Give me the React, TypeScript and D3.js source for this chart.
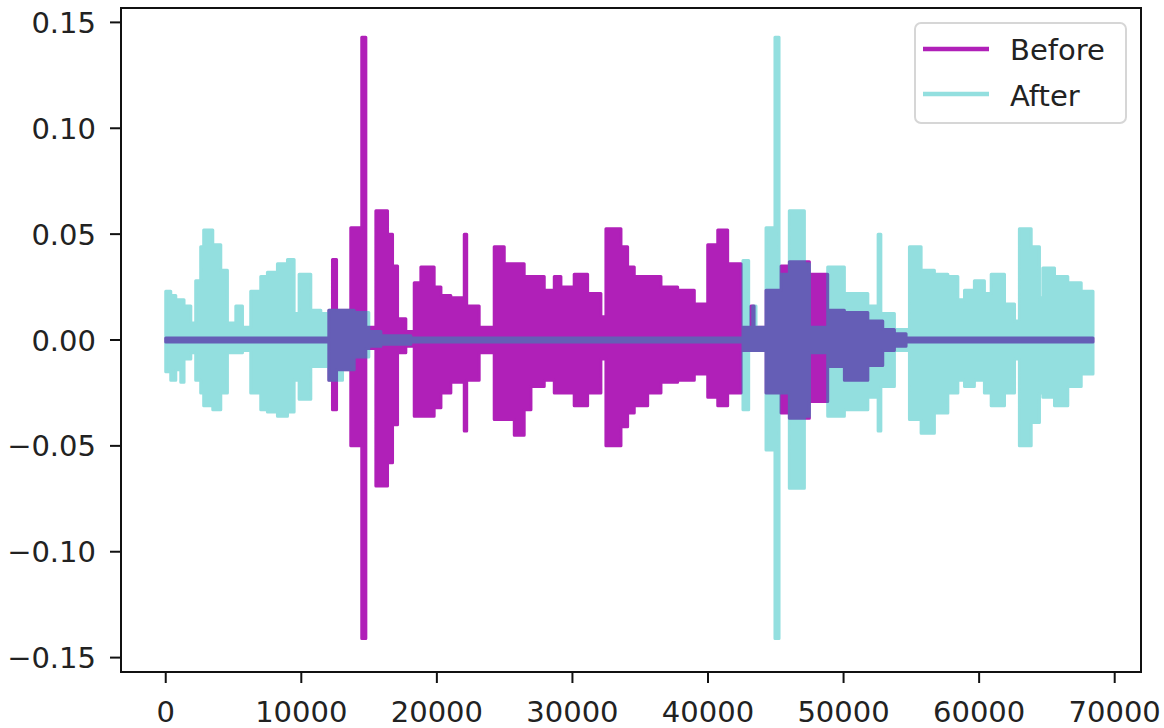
import React from 'react'
import * as d3 from 'd3'

// envelope of each waveform: sample index where a step starts, upper and lower amplitude
const beforeIdx = [0, 12030, 12300, 12600, 13650, 14460, 14760, 15500, 16360, 16730, 17100, 17710, 18330, 18820, 19800, 20300, 21030, 22020, 22200, 23120, 24230, 24970, 25710, 26440, 26940, 27920, 28660, 29150, 30130, 31120, 32100, 32470, 33580, 34070, 34560, 35550, 36530, 37760, 38990, 39980, 40720, 41450, 42440, 43170, 43400, 44280, 45390, 46000, 47480, 48830, 50060, 51790, 52890, 53750, 54610, 68400]
const beforeHi = [0.001, 0.014, 0.038, 0.014, 0.053, 0.143, 0.006, 0.061, 0.05, 0.035, 0.01, 0.004, 0.027, 0.0345, 0.025, 0.021, 0.02, 0.05, 0.016, 0.006, 0.044, 0.036, 0.036, 0.03, 0.03, 0.0235, 0.03, 0.025, 0.031, 0.022, 0.011, 0.0525, 0.044, 0.0345, 0.03, 0.03, 0.025, 0.0235, 0.017, 0.045, 0.052, 0.036, 0.006, 0.016, 0.006, 0.0235, 0.035, 0.037, 0.031, 0.014, 0.013, 0.009, 0.005, 0.003, 0.001, 0.001]
const beforeLo = [-0.001, -0.019, -0.033, -0.014, -0.05, -0.141, -0.004, -0.069, -0.058, -0.04, -0.006, -0.003, -0.036, -0.036, -0.032, -0.025, -0.02, -0.043, -0.019, -0.006, -0.0376, -0.0376, -0.045, -0.033, -0.022, -0.019, -0.025, -0.025, -0.031, -0.025, -0.009, -0.05, -0.041, -0.0345, -0.031, -0.025, -0.02, -0.019, -0.016, -0.027, -0.031, -0.025, -0.005, -0.005, -0.005, -0.025, -0.0345, -0.037, -0.029, -0.0125, -0.019, -0.012, -0.005, -0.003, -0.001, -0.001]

const afterIdx = [0, 370, 740, 1110, 1350, 1850, 2210, 2580, 2800, 3470, 4060, 4550, 5170, 5660, 6270, 7010, 7500, 8240, 8980, 9470, 9840, 10700, 11440, 12030, 13040, 13900, 14980, 15870, 18080, 42580, 43000, 43300, 43540, 44280, 44940, 45240, 46000, 47110, 47480, 48830, 50060, 51790, 52550, 52750, 53750, 54860, 55720, 56700, 57690, 58430, 58920, 59650, 60390, 60890, 61870, 62610, 62970, 63840, 64450, 64700, 65560, 66540, 67530, 68400]
const afterHi = [0.023, 0.021, 0.019, 0.019, 0.016, 0.008, 0.028, 0.044, 0.052, 0.045, 0.033, 0.008, 0.016, 0.006, 0.023, 0.03, 0.032, 0.036, 0.038, 0.0125, 0.031, 0.014, 0.0125, 0.014, 0.014, 0.013, 0.004, 0.002, 0.001, 0.0376, 0.006, 0.016, 0.006, 0.053, 0.143, 0.031, 0.061, 0.036, 0.006, 0.0345, 0.022, 0.016, 0.05, 0.0125, 0.005, 0.044, 0.033, 0.031, 0.03, 0.019, 0.0235, 0.028, 0.022, 0.031, 0.017, 0.009, 0.0525, 0.044, 0.02, 0.034, 0.03, 0.027, 0.023, 0.023]
const afterLo = [-0.015, -0.019, -0.014, -0.02, -0.009, -0.006, -0.019, -0.025, -0.031, -0.033, -0.025, -0.006, -0.006, -0.005, -0.025, -0.033, -0.034, -0.036, -0.034, -0.019, -0.028, -0.0125, -0.0125, -0.019, -0.014, -0.008, -0.003, -0.002, -0.001, -0.033, -0.005, -0.005, -0.005, -0.052, -0.141, -0.025, -0.07, -0.036, -0.006, -0.036, -0.033, -0.027, -0.043, -0.022, -0.005, -0.0376, -0.044, -0.0345, -0.025, -0.019, -0.022, -0.019, -0.025, -0.031, -0.025, -0.009, -0.05, -0.039, -0.025, -0.027, -0.031, -0.022, -0.016, -0.016]

const xTicks = [0, 10000, 20000, 30000, 40000, 50000, 60000, 70000]
const yTicks = [-0.15, -0.1, -0.05, 0, 0.05, 0.1, 0.15]

const series = [
  { name: 'Before', idx: beforeIdx, hi: beforeHi, lo: beforeLo, color: '#b020b8', opacity: 1 },
  { name: 'After', idx: afterIdx, hi: afterHi, lo: afterLo, color: '#00b4b4', opacity: 0.42 },
]

const width = 1164
const height = 728
const left = 121, right = 1141, top = 8, bottom = 672
const font = 'DejaVu Sans'

export default function App() {
  const x = d3.scaleLinear().domain([-3300, 71940]).range([left, right])
  const y = d3.scaleLinear().domain([-0.1568, 0.1568]).range([bottom, top])

  const area = d3.area<[number, number, number]>()
    .x(d => x(d[0]))
    .y0(d => y(d[2]))
    .y1(d => y(d[1]))
    .curve(d3.curveStepAfter)

  const fmtY = d3.format('.2f')

  return (
    <svg width={width} height={height} style={{ position: 'absolute', left: 0, top: 0, background: '#fff' }}
      fontFamily={font}>
      <g>
        {series.map(s => {
          const pts = s.idx.map((v, i) => [v, s.hi[i], s.lo[i]] as [number, number, number])
          return (
            <path key={s.name} d={area(pts) || ''} fill={s.color} stroke={s.color}
              strokeWidth={3} strokeLinejoin="round" opacity={s.opacity} />
          )
        })}
      </g>

      {/* frame */}
      <rect x={left} y={top} width={right - left} height={bottom - top} fill="none" stroke="#111" strokeWidth={2} />

      {/* y axis */}
      {yTicks.map(t => (
        <g key={'y' + t}>
          <line x1={left - 11} x2={left} y1={y(t)} y2={y(t)} stroke="#111" strokeWidth={2} />
          <text x={left - 25} y={y(t) + 10.5} textAnchor="end" fontSize={29} fill="#222">{fmtY(t)}</text>
        </g>
      ))}

      {/* x axis */}
      {xTicks.map(t => (
        <g key={'x' + t}>
          <line x1={x(t)} x2={x(t)} y1={bottom} y2={bottom + 11} stroke="#111" strokeWidth={2} />
          <text x={x(t)} y={722} textAnchor="middle" fontSize={29} fill="#222">{t}</text>
        </g>
      ))}

      {/* legend */}
      <g>
        <rect x={915} y={23} width={211} height={100} rx={6} fill="#fff" fillOpacity={0.8} stroke="#d6d6d6" strokeWidth={2} />
        {series.map((s, i) => (
          <g key={'lg' + s.name}>
            <line x1={923} x2={989} y1={49 + i * 45} y2={49 + i * 45} stroke={s.color} strokeWidth={4.5} opacity={s.opacity} />
            <text x={1010} y={60 + i * 46} fontSize={29} fill="#222">{s.name}</text>
          </g>
        ))}
      </g>
    </svg>
  )
}
